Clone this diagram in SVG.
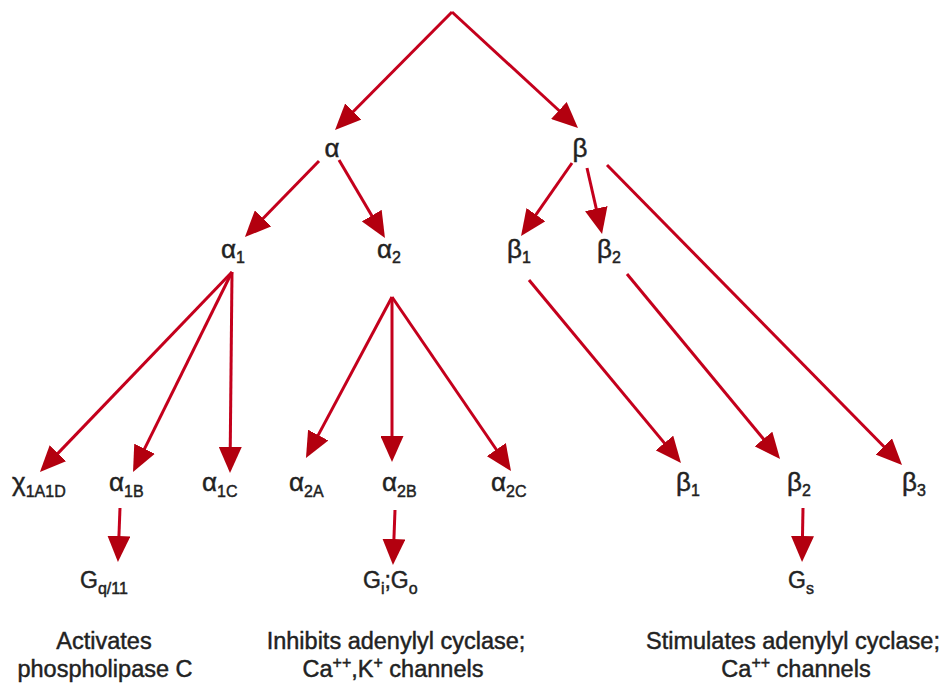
<svg xmlns="http://www.w3.org/2000/svg" width="947" height="683" viewBox="0 0 947 683">
<style>
text{font-family:"Liberation Sans",Arial,sans-serif;fill:#222;stroke:#222;stroke-width:0.45;}
.g{font-size:26px;}
.G{font-size:23px;}
.s{font-size:16px;}
.d{font-size:23.5px;text-anchor:middle;}
.c line{stroke:#c4001c;stroke-width:3;fill:none;marker-end:url(#ah);}
</style>
<defs>
<marker id="ah" markerUnits="userSpaceOnUse" markerWidth="26" markerHeight="23" viewBox="0 0 26 23" refX="6" refY="11.5" orient="auto">
<path d="M0,0 L26,11.5 L0,23 z" fill="#b3000f"/>
</marker>
</defs>
<rect width="947" height="683" fill="#fff"/>
<g class="c" id="connectors">
<line x1="452" y1="12" x2="349.1" y2="115.8"/>
<line x1="452" y1="12" x2="563.3" y2="114.5"/>
<line x1="319" y1="161" x2="258.9" y2="222.7"/>
<line x1="339" y1="160" x2="374.8" y2="220.8"/>
<line x1="572" y1="163" x2="532.5" y2="219.6"/>
<line x1="587" y1="168" x2="597.6" y2="214.5"/>
<line x1="607" y1="165" x2="888" y2="450.7"/>
<line x1="232" y1="272" x2="53.8" y2="457.6"/>
<line x1="232" y1="272" x2="141.9" y2="454.1"/>
<line x1="232" y1="272" x2="230.2" y2="453"/>
<line x1="392" y1="297" x2="315.4" y2="440.4"/>
<line x1="392" y1="297" x2="392" y2="442"/>
<line x1="392" y1="297" x2="499.7" y2="454.5"/>
<line x1="529" y1="280" x2="668.2" y2="447.6"/>
<line x1="627" y1="274" x2="767.3" y2="443.6"/>
<line x1="120" y1="508" x2="118.7" y2="542"/>
<line x1="395" y1="510" x2="393.7" y2="545"/>
<line x1="803" y1="508" x2="802.4" y2="542"/>
</g>
<g id="alpha"><text class="g" x="332" y="157" text-anchor="middle">α</text></g>
<g id="beta"><text class="g" x="580" y="157" text-anchor="middle">β</text></g>
<g id="alpha1"><text class="g" x="221" y="258">α<tspan class="s" dy="5">1</tspan></text></g>
<g id="alpha2"><text class="g" x="377" y="258">α<tspan class="s" dy="5">2</tspan></text></g>
<g id="beta1"><text class="g" x="507" y="258">β<tspan class="s" dy="5">1</tspan></text></g>
<g id="beta2"><text class="g" x="597" y="258">β<tspan class="s" dy="5">2</tspan></text></g>
<g id="alpha1A1D"><text class="g" x="12" y="491">χ<tspan class="s" dy="6">1A1D</tspan></text></g>
<g id="alpha1B"><text class="g" x="109" y="491">α<tspan class="s" dy="6">1B</tspan></text></g>
<g id="alpha1C"><text class="g" x="202" y="491">α<tspan class="s" dy="6">1C</tspan></text></g>
<g id="alpha2A"><text class="g" x="289" y="491">α<tspan class="s" dy="6">2A</tspan></text></g>
<g id="alpha2B"><text class="g" x="382" y="491">α<tspan class="s" dy="6">2B</tspan></text></g>
<g id="alpha2C"><text class="g" x="491" y="491">α<tspan class="s" dy="6">2C</tspan></text></g>
<g id="beta1b"><text class="g" x="676" y="491">β<tspan class="s" dy="5">1</tspan></text></g>
<g id="beta2b"><text class="g" x="787" y="491">β<tspan class="s" dy="5">2</tspan></text></g>
<g id="beta3"><text class="g" x="902" y="491">β<tspan class="s" dy="5">3</tspan></text></g>
<g id="gq11"><text class="G" x="80" y="588">G<tspan class="s" dy="6">q/11</tspan></text></g>
<g id="gigo"><text class="G" x="363" y="588">G<tspan class="s" dy="6">i</tspan><tspan dy="-6">;G</tspan><tspan class="s" dy="6">o</tspan></text></g>
<g id="gs"><text class="G" x="788" y="588">G<tspan class="s" dy="6">s</tspan></text></g>
<g id="desc1"><text class="d" x="104" y="649">Activates</text><text class="d" x="105" y="677">phospholipase C</text></g>
<g id="desc2"><text class="d" x="396" y="649">Inhibits adenylyl cyclase;</text><text class="d" x="393" y="677">Ca<tspan class="s" dy="-9">++</tspan><tspan dy="9">,K</tspan><tspan class="s" dy="-9">+</tspan><tspan dy="9"> channels</tspan></text></g>
<g id="desc3"><text class="d" x="793" y="649">Stimulates adenylyl cyclase;</text><text class="d" x="796" y="677">Ca<tspan class="s" dy="-9">++</tspan><tspan dy="9"> channels</tspan></text></g>
</svg>
